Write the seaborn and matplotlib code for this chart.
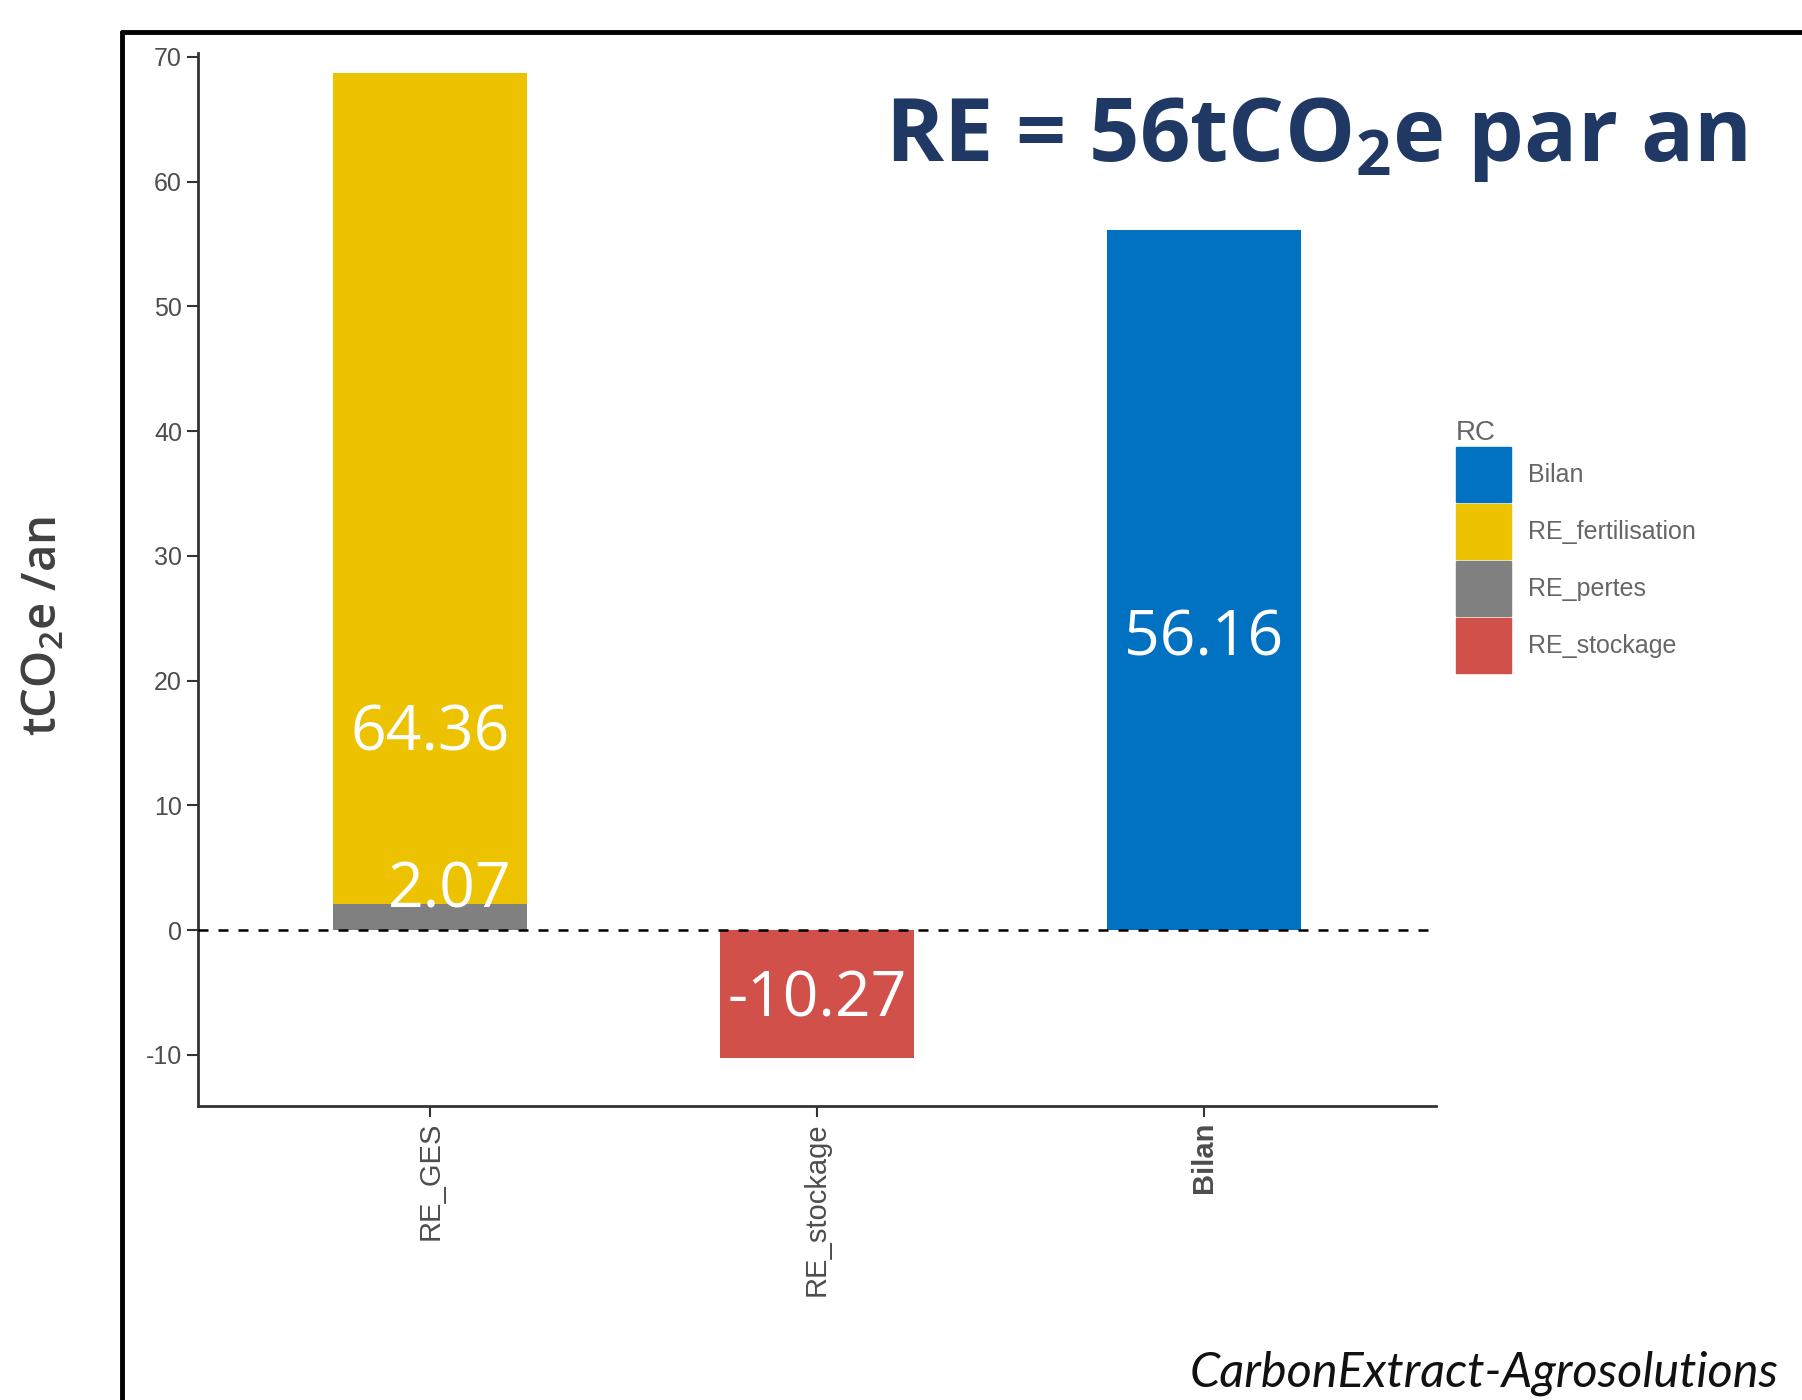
import matplotlib
matplotlib.use("Agg")
import matplotlib.pyplot as plt
import matplotlib.patches as mpatches
import seaborn as sns
import pandas as pd

# data
categories = ["RE_GES", "RE_stockage", "Bilan"]
components = ["Bilan", "RE_fertilisation", "RE_pertes", "RE_stockage"]
colors = {"Bilan": "#0072C1", "RE_fertilisation": "#EDC200",
          "RE_pertes": "#808080", "RE_stockage": "#D1504A"}

# segments: (category, component, height)
seg_cat = ["RE_GES", "RE_GES", "RE_stockage", "Bilan"]
seg_comp = ["RE_pertes", "RE_fertilisation", "RE_stockage", "Bilan"]
seg_height = [2.09, 66.6, -10.27, 56.16]

# value labels as printed, with their y position
lab_text = ["64.36", "2.07", "-10.27", "56.16"]
lab_cat = ["RE_GES", "RE_GES", "RE_stockage", "Bilan"]
lab_y = [15.7, 3.1, -5.6, 23.3]

sns.set_theme(style="white")
plt.rcParams['font.family'] = ['Liberation Sans', 'DejaVu Sans']
plt.rcParams['axes.unicode_minus'] = False

fig = plt.figure(figsize=(18.02, 14), dpi=100)
ax = fig.add_axes([0.1099, 0.21, 0.797 - 0.1099, 0.752])

df = pd.DataFrame({"cat": seg_cat, "comp": seg_comp, "h": seg_height})

# stack: draw cumulative totals first, then lower segments over them
df["top"] = df.groupby("cat")["h"].cumsum()
for i in reversed(range(len(df))):
    row = df.iloc[[i]]
    sns.barplot(data=row, x="cat", y="top", order=categories,
                color=colors[row["comp"].iloc[0]], width=0.5,
                saturation=1, ax=ax, edgecolor="none", linewidth=0)

ax.axhline(0, color="black", ls=(0, (4, 4)), lw=1.8, zorder=5)

ax.set_xlim(-0.6, 2.6)
ax.set_ylim(-14.1, 70.3)
ax.set_yticks([-10, 0, 10, 20, 30, 40, 50, 60, 70])
ax.tick_params(axis="y", labelsize=18, labelcolor="#4D4D4D", length=8,
               width=1.5, color="#333333", left=True)
ax.tick_params(axis="x", labelsize=21, labelcolor="#4D4D4D", length=8,
               width=1.5, color="#333333", bottom=True, rotation=90)
for t in ax.get_xticklabels():
    if t.get_text() == "Bilan":
        t.set_fontweight("bold")
ax.set_xlabel("")
ax.set_ylabel("")
for s in ["top", "right"]:
    ax.spines[s].set_visible(False)
for s in ["left", "bottom"]:
    ax.spines[s].set_color("#333333")
    ax.spines[s].set_linewidth(2)

for txt, c, y in zip(lab_text, lab_cat, lab_y):
    x = categories.index(c)
    if txt == "2.07":
        x += 0.05
    ax.text(x, y, txt, color="white", fontsize=45, ha="center", va="center",
            family=["Open Sans", "DejaVu Sans"], zorder=6)

# outer frame
fig.add_artist(plt.Line2D([122 / 1802, 122 / 1802], [0, 1 - 32 / 1400],
                          color="black", lw=3.5))
fig.add_artist(plt.Line2D([122 / 1802, 1], [1 - 32 / 1400, 1 - 32 / 1400],
                          color="black", lw=3.5))

fig.text(885 / 1802, 1 - 140 / 1400, r"RE = 56tCO$\mathregular{_2}$e par an",
         fontsize=63.5, fontweight="bold", color="#1F3864",
         family=["Open Sans", "DejaVu Sans"], va="center", ha="left")

fig.text(44 / 1802, 1 - 626 / 1400, r"tCO$\mathregular{_2}$e /an", rotation=90,
         fontsize=34, color="#404040", fontweight="semibold",
         family=["Open Sans", "DejaVu Sans"], va="center", ha="center")

fig.text(1779 / 1802, 1 - 1373 / 1400, "CarbonExtract-Agrosolutions",
         fontsize=35, style="italic", color="#111111",
         family=["Lato", "DejaVu Sans"], ha="right", va="center")

handles = [mpatches.Patch(color=colors[c], label=c) for c in components]
leg = fig.legend(handles=handles, title="RC", loc="upper left",
                 bbox_to_anchor=(1433 / 1802, 1 - 397 / 1400), frameon=False,
                 fontsize=18, title_fontsize=20, handlelength=2.2,
                 handleheight=3.05, labelspacing=0.05, handletextpad=0.7,
                 labelcolor="#666666")
leg.get_title().set_color("#666666")
leg._legend_box.align = "left"

fig.savefig("out.png", dpi=100)
